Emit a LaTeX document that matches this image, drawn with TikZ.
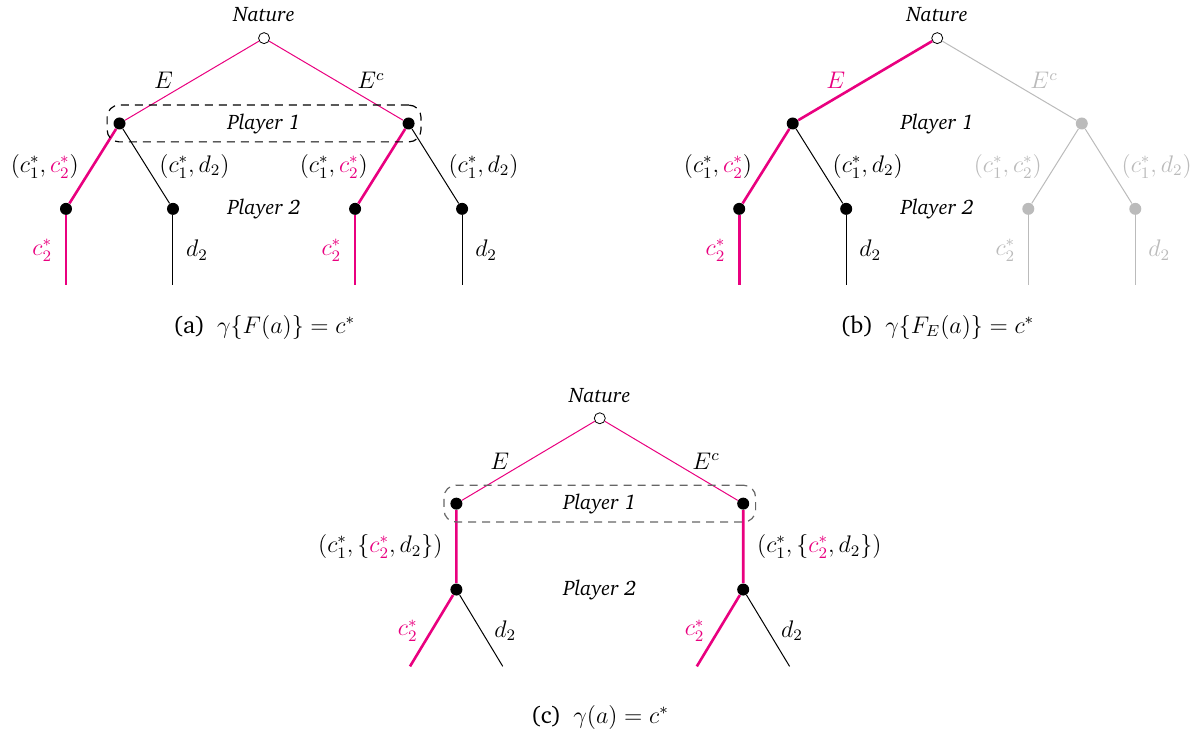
\documentclass[tikz,border=0pt]{standalone}
\usepackage[T1]{fontenc}
\renewcommand{\rmdefault}{bch}
\usetikzlibrary{fit,positioning}
\definecolor{hilite}{RGB}{233,0,127}
\definecolor{faded}{RGB}{187,187,187}
\tikzset{
  nature/.style={circle, draw, fill=white, inner sep=0pt, minimum size=5.5pt},
  decision/.style={circle, fill, inner sep=0pt, minimum size=6pt},
  fadednode/.style={decision, fill=faded},
  plain/.style={draw=black, line width=0.5pt},
  chosen/.style={draw=hilite, line width=1.3pt},
  chance/.style={draw=hilite, line width=0.5pt},
  fadededge/.style={draw=faded, line width=0.5pt},
  player/.style={font=\fontsize{10.5}{12.5}\selectfont\itshape},
  infoset/.style={draw, line width=0.6pt, dash pattern=on 4pt off 3pt, rounded corners=6pt,
    inner xsep=3pt, inner ysep=6pt},
}
\begin{document}
\begin{tikzpicture}[
level distance = 15mm,
level 1/.style={sibling distance=50.8mm},
level 2/.style={sibling distance=18.8mm},
level 3/.style={level distance=13.4mm},
edge from parent/.style={draw},
every node/.style={font=\large},
]
  \useasboundingbox (0,0) rectangle (21.105,-13.004);

  % (a)
  \node[nature] (aN) at (4.64,-0.67) {}
    child {node[decision] (aP1) {}
      child {node[decision] (aP11) {}
        child {coordinate (aL11) edge from parent[chosen] node[left=3pt] {$\textcolor{hilite}{c_2^*}$}}
        edge from parent[chosen] node[left=3pt] {$(c_1^*, \textcolor{hilite}{c_2^*})$}}
      child {node[decision] (aP12) {}
        child {coordinate (aL12) edge from parent[plain] node[right=3pt] {$d_2$}}
        edge from parent[plain] node[right=3pt] {$(c_1^*, d_2)$}}
      edge from parent[chance] node[left=6pt] {$E$}}
    child {node[decision] (aP2) {}
      child {node[decision] (aP21) {}
        child {coordinate (aL21) edge from parent[chosen] node[left=3pt] {$\textcolor{hilite}{c_2^*}$}}
        edge from parent[chosen] node[left=3pt] {$(c_1^*, \textcolor{hilite}{c_2^*})$}}
      child {node[decision] (aP22) {}
        child {coordinate (aL22) edge from parent[plain] node[right=3pt] {$d_2$}}
        edge from parent[plain] node[right=3pt] {$(c_1^*, d_2)$}}
      edge from parent[chance] node[right=7pt] {$E^c$}};
  \node[player] (aNat) [above=1.5pt of aN] {Nature};
  \node[player] (aPl1) at (aN |- aP1) {Player 1};
  \node[player] (aPl2) at (aN |- aP11) {Player 2};
  \node[infoset, fit=(aP1)(aP2)] (aInfo) {};
  \node (aCap) at (4.64,-5.75) {(a)\enspace$\gamma\{F(a)\} = c^*$};

  % (b)
  \node[nature] (bN) at (16.47,-0.67) {}
    child {node[decision] (bP1) {}
      child {node[decision] (bP11) {}
        child {coordinate (bL11) edge from parent[chosen] node[left=3pt] {$\textcolor{hilite}{c_2^*}$}}
        edge from parent[chosen] node[left=3pt] {$(c_1^*, \textcolor{hilite}{c_2^*})$}}
      child {node[decision] (bP12) {}
        child {coordinate (bL12) edge from parent[plain] node[right=3pt] {$d_2$}}
        edge from parent[plain] node[right=3pt] {$(c_1^*, d_2)$}}
      edge from parent[chosen] node[left=6pt, text=hilite] {$E$}}
    child {node[fadednode] (bP2) {}
      child {node[fadednode] (bP21) {}
        child {coordinate (bL21) edge from parent[fadededge] node[left=3pt, text=faded] {$c_2^*$}}
        edge from parent[fadededge] node[left=3pt, text=faded] {$(c_1^*, c_2^*)$}}
      child {node[fadednode] (bP22) {}
        child {coordinate (bL22) edge from parent[fadededge] node[right=3pt, text=faded] {$d_2$}}
        edge from parent[fadededge] node[right=3pt, text=faded] {$(c_1^*, d_2)$}}
      edge from parent[fadededge] node[right=7pt, text=faded] {$E^c$}};
  \node[player] (bNat) [above=1.5pt of bN] {Nature};
  \node[player] (bPl1) at (bN |- bP1) {Player 1};
  \node[player] (bPl2) at (bN |- bP11) {Player 2};
  \node (bCap) at (16.47,-5.75) {(b)\enspace$\gamma\{F_E(a)\} = c^*$};

  % (c)
  \begin{scope}[
  level 1/.style={sibling distance=50.4mm},
  level 2/.style={level distance=15.1mm},
  level 3/.style={sibling distance=16.3mm, level distance=13.5mm},
  ]
  \node[nature] (cN) at (10.54,-7.35) {}
    child {node[decision] (cP1) {}
      child {node[decision] (cP11) {}
        child {coordinate (cL111) edge from parent[chosen] node[left=3pt] {$\textcolor{hilite}{c_2^*}$}}
        child {coordinate (cL112) edge from parent[plain] node[right=3pt] {$d_2$}}
        edge from parent[chosen] node[left=3pt] {$(c_1^*, \{\textcolor{hilite}{c_2^*}, d_2\})$}}
      edge from parent[chance] node[left=6pt] {$E$}}
    child {node[decision] (cP2) {}
      child {node[decision] (cP21) {}
        child {coordinate (cL211) edge from parent[chosen] node[left=3pt] {$\textcolor{hilite}{c_2^*}$}}
        child {coordinate (cL212) edge from parent[plain] node[right=3pt] {$d_2$}}
        edge from parent[chosen] node[right=3pt] {$(c_1^*, \{\textcolor{hilite}{c_2^*}, d_2\})$}}
      edge from parent[chance] node[right=7pt] {$E^c$}};
  \end{scope}
  \node[player] (cNat) [above=1.5pt of cN] {Nature};
  \node[player] (cPl1) at (cN |- cP1) {Player 1};
  \node[player] (cPl2) at (cN |- cP11) {Player 2};
  \node[infoset, draw=black!60, fit=(cP1)(cP2)] (cInfo) {};
  \node (cCap) at (10.54,-12.60) {(c)\enspace$\gamma(a) = c^*$};
\end{tikzpicture}
\end{document}
